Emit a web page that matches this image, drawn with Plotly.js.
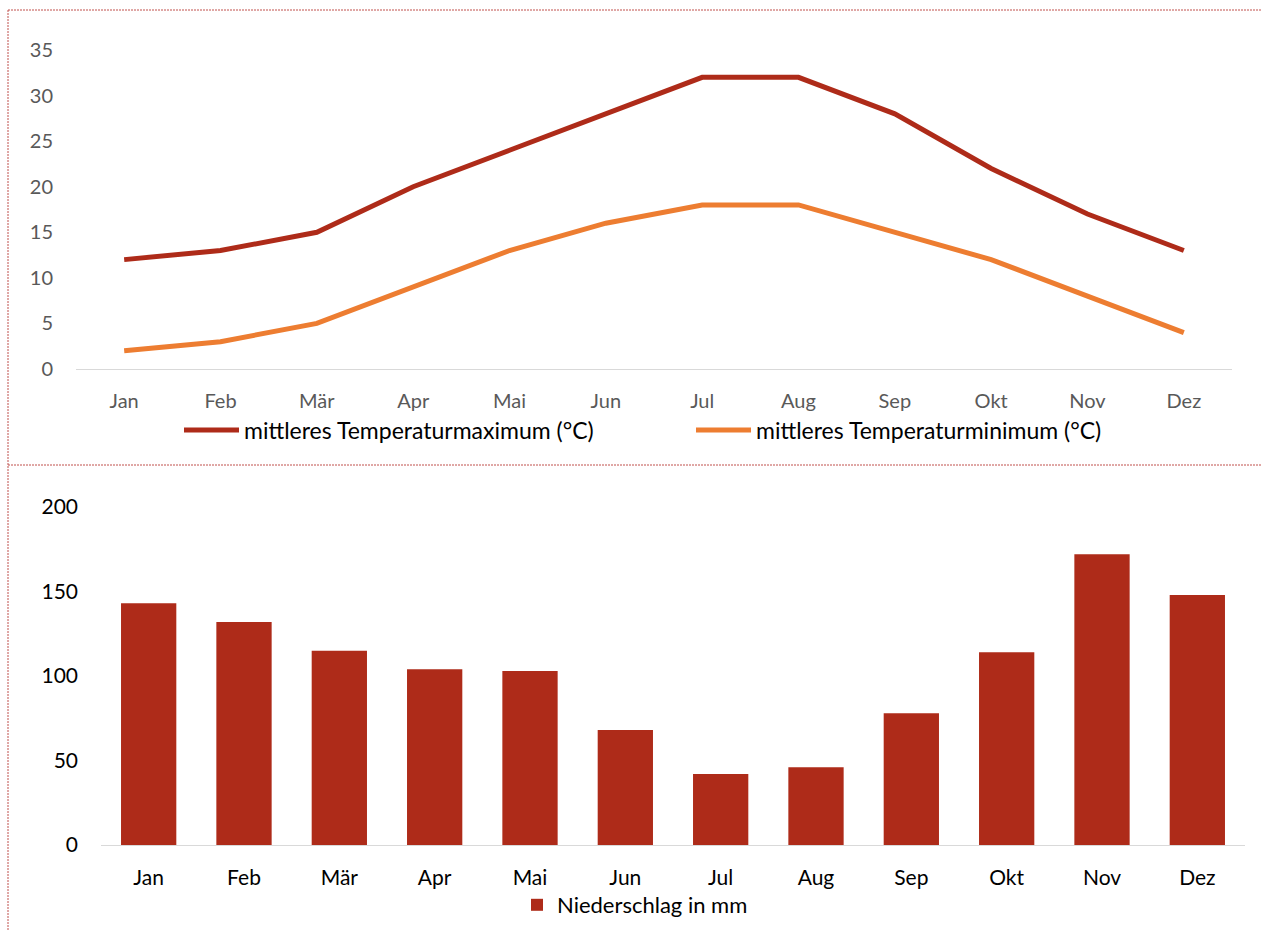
<!DOCTYPE html>
<html>
<head>
<meta charset="utf-8">
<script src="https://cdn.plot.ly/plotly-3.0.1.min.js"></script>
<style>html,body{margin:0;padding:0;background:#fff;}#chart{width:1261px;height:931px;}</style>
</head>
<body>
<div id="chart"></div>
<script>
const months = ["Jan","Feb","Mär","Apr","Mai","Jun","Jul","Aug","Sep","Okt","Nov","Dez"];
const tempMax = [12,13,15,20,24,28,32,32,28,22,17,13];
const tempMin = [2,3,5,9,13,16,18,18,15,12,8,4];
const precip = [143,132,115,104,103,68,42,46,78,114,172,148];
const tempTicks = [0,5,10,15,20,25,30,35];
const precipTicks = [0,50,100,150,200];

const W = 1261, H = 931;
const px = x => x / W;
const py = y => 1 - y / H;
const FONT = "Lato, 'Open Sans', sans-serif";

const traces = [
  {x: months, y: tempMax, type: "scatter", mode: "lines", name: "mittleres Temperaturmaximum (°C)",
   line: {color: "#AE2B19", width: 5}, xaxis: "x", yaxis: "y", legend: "legend", cliponaxis: false},
  {x: months, y: tempMin, type: "scatter", mode: "lines", name: "mittleres Temperaturminimum (°C)",
   line: {color: "#ED7D31", width: 5}, xaxis: "x", yaxis: "y", legend: "legend", cliponaxis: false},
  {x: months, y: precip, type: "bar", name: "Niederschlag in mm",
   marker: {color: "#AE2B19"}, xaxis: "x2", yaxis: "y2", legend: "legend2", width: 0.58}
];

const dotted = {color: "#C0504D", width: 1, dash: "2px,1px"};
const layout = {
  width: W, height: H,
  margin: {l: 0, r: 0, t: 0, b: 0},
  paper_bgcolor: "#fff", plot_bgcolor: "#fff",
  font: {family: FONT, size: 20, color: "#000"},
  showlegend: true,
  xaxis: {domain: [px(76), px(1232)], anchor: "y", type: "category", range: [-0.5, 11.5], showline: true, linecolor: "#D9D9D9", linewidth: 1,
          showgrid: false, zeroline: false, ticks: "", tickfont: {color: "#595959", size: 20, family: FONT},
          ticklabelstandoff: 14, fixedrange: true},
  yaxis: {domain: [py(369), py(50)], anchor: "x", range: [0, 35], tickvals: tempTicks, showgrid: false, zeroline: false,
          showline: false, ticks: "", tickfont: {color: "#595959", size: 20, family: FONT}, ticklabelstandoff: 22, fixedrange: true},
  xaxis2: {domain: [px(101), px(1245)], anchor: "y2", type: "category", range: [-0.5, 11.5], showline: true, linecolor: "#D9D9D9", linewidth: 1,
          showgrid: false, zeroline: false, ticks: "", tickfont: {color: "#000", size: 21, family: FONT},
          ticklabelstandoff: 14, fixedrange: true},
  yaxis2: {domain: [py(845), py(507)], anchor: "x2", range: [0, 200], tickvals: precipTicks, showgrid: false, zeroline: false,
          showline: false, ticks: "", tickfont: {color: "#000", size: 21, family: FONT}, ticklabelstandoff: 22, fixedrange: true},
  legend: {orientation: "h", x: px(179), y: py(430), xanchor: "left", yanchor: "middle", font: {size: 23, color: "#000", family: FONT},
           bgcolor: "rgba(0,0,0,0)", entrywidth: 442, entrywidthmode: "pixels", itemwidth: 55},
  legend2: {orientation: "h", x: px(517), y: py(905), xanchor: "left", yanchor: "middle", font: {size: 22, color: "#000", family: FONT},
           bgcolor: "rgba(0,0,0,0)"},
  shapes: [
    {type: "line", xref: "paper", yref: "paper", x0: px(8), x1: 1, y0: py(10), y1: py(10), line: dotted},
    {type: "line", xref: "paper", yref: "paper", x0: px(8), x1: px(8), y0: py(10), y1: 0, line: dotted},
    {type: "line", xref: "paper", yref: "paper", x0: px(8), x1: 1, y0: py(465), y1: py(465), line: dotted}
  ]
};

Plotly.newPlot("chart", traces, layout, {displayModeBar: false, staticPlot: true});
</script>
</body>
</html>
